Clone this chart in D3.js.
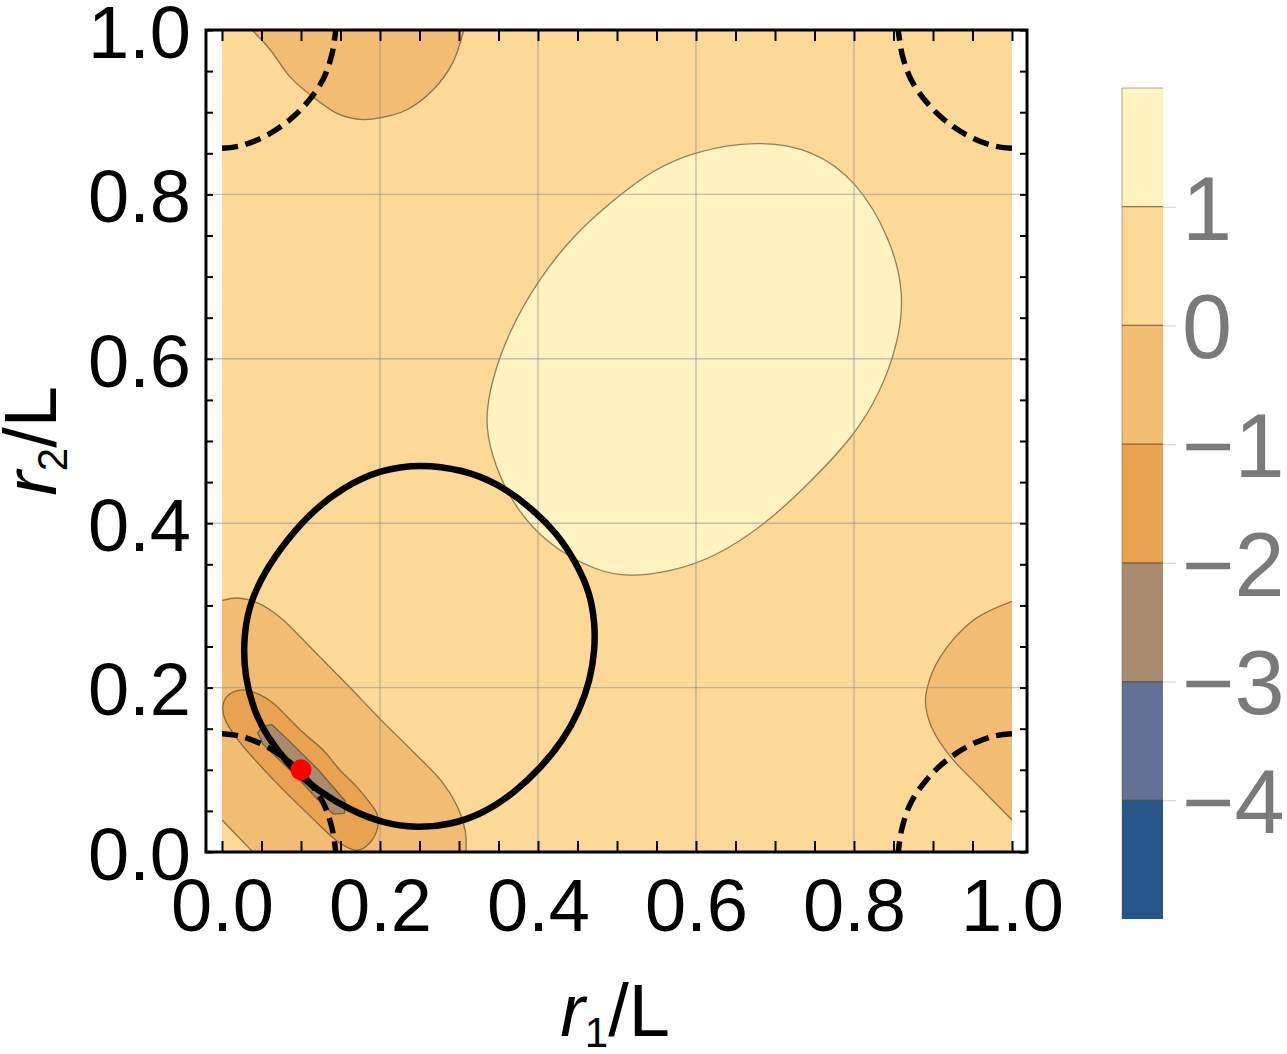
<!DOCTYPE html>
<html><head><meta charset="utf-8">
<script src="https://cdn.jsdelivr.net/npm/d3@7"></script>
<style>body{margin:0;background:#fff}</style>
</head><body><svg id="c" width="1287" height="1054"></svg>
<script>
// ---------- data (data units r1/L, r2/L) ----------
const levels = [-5, -4, -3, -2, -1, 0, 1, 2];
const levelColors = ["#265589", "#637196", "#A88A6E", "#E8A250", "#F2BD72", "#FDD998", "#FFF3C2"];
const colorbarTicks = [-4, -3, -2, -1, 0, 1];
const axisMajorTicks = [0, 0.2, 0.4, 0.6, 0.8, 1.0];
const axisMinorTicks = [0,0.05,0.1,0.15,0.2,0.25,0.3,0.35,0.4,0.45,0.5,0.55,0.6,0.65,0.7,0.75,0.8,0.85,0.9,0.95,1.0];
const gridTicks = [0.2, 0.4, 0.6, 0.8];

// level 1..2 region (closed)
const regionPos1 = [[0.500,0.797],[0.546,0.830],[0.596,0.852],[0.677,0.866],[0.748,0.855],[0.804,0.816],[0.846,0.747],[0.864,0.680],[0.856,0.619],[0.833,0.558],[0.799,0.505],[0.748,0.453],[0.690,0.400],[0.622,0.357],[0.563,0.340],[0.516,0.335],[0.475,0.341],[0.411,0.374],[0.365,0.426],[0.340,0.485],[0.333,0.526],[0.341,0.573],[0.363,0.633],[0.399,0.694],[0.444,0.750]];
// level -1..0 regions (open curves ending on plot edges)
const regionNeg1Top = [[0.038,1.0],[0.061,0.976],[0.086,0.943],[0.120,0.915],[0.149,0.897],[0.178,0.891],[0.200,0.893],[0.234,0.903],[0.267,0.927],[0.292,0.960],[0.306,1.0]];
const regionNeg1Right = [[1.0,0.305],[0.951,0.282],[0.909,0.237],[0.892,0.197],[0.891,0.176],[0.900,0.148],[0.922,0.116],[0.959,0.079],[1.0,0.039]];
const regionNeg1Diag = [[0,0.306],[0.020,0.309],[0.045,0.303],[0.073,0.286],[0.115,0.246],[0.158,0.204],[0.200,0.162],[0.242,0.122],[0.278,0.086],[0.298,0.055],[0.308,0.025],[0.309,0]];
const regionNeg1Corner = [[0.039,0],[0,0.039]];
// level -2..-1 region (closed)
const regionNeg2 = [[0.023,0.197],[0.044,0.193],[0.065,0.181],[0.084,0.163],[0.103,0.145],[0.128,0.124],[0.149,0.100],[0.171,0.079],[0.187,0.060],[0.196,0.047],[0.197,0.030],[0.187,0.011],[0.171,0.002],[0.149,0.011],[0.108,0.047],[0.065,0.088],[0.023,0.133],[0.004,0.161],[0.001,0.176],[0.006,0.189]];
// level -3..-2 region (closed)
const regionNeg3 = [[0.052,0.153],[0.045,0.145],[0.052,0.131],[0.090,0.096],[0.122,0.063],[0.141,0.046],[0.155,0.047],[0.156,0.062],[0.121,0.101],[0.083,0.137],[0.063,0.155]];
// thick solid loop
const loopCurve = [[0.251,0.472],[0.305,0.465],[0.348,0.449],[0.390,0.420],[0.424,0.388],[0.449,0.351],[0.466,0.315],[0.472,0.278],[0.472,0.246],[0.466,0.209],[0.453,0.173],[0.432,0.136],[0.404,0.103],[0.369,0.071],[0.331,0.047],[0.289,0.033],[0.246,0.029],[0.204,0.035],[0.162,0.051],[0.120,0.075],[0.086,0.104],[0.057,0.140],[0.040,0.173],[0.029,0.213],[0.027,0.254],[0.033,0.298],[0.053,0.340],[0.082,0.380],[0.116,0.416],[0.154,0.444],[0.200,0.465]];
// dashed quarter arc (offset from its corner) and the corners where it appears
const dashedArc = [[0,0.144],[0.023,0.141],[0.057,0.128],[0.086,0.109],[0.108,0.088],[0.128,0.060],[0.139,0.030],[0.144,0]];
const arcCorners = [[0,0],[0,1],[1,1],[1,0]];
const markerPoint = [0.1, 0.1];

// ---------- drawing ----------
const FONT = "'Liberation Sans', Arial, Helvetica, sans-serif";
const svg = d3.select('#c');
const x = d3.scaleLinear().domain([0,1]).range([222,1012]);
const y = d3.scaleLinear().domain([0,1]).range([852,30]);
const fx0 = x(-0.0203), fx1 = x(1.019), fy0 = y(1), fy1 = y(0);
const color = d3.scaleThreshold().domain(levels.slice(1, -1)).range(levelColors);

svg.append('defs').append('clipPath').attr('id','clip')
  .append('rect').attr('x',x(0)).attr('y',y(1)).attr('width',x(1)-x(0)).attr('height',y(0)-y(1));

const plot = svg.append('g').attr('clip-path','url(#clip)');
const lineOpen = d3.line().x(d=>x(d[0])).y(d=>y(d[1])).curve(d3.curveCatmullRom.alpha(0.5));
const lineClosed = d3.line().x(d=>x(d[0])).y(d=>y(d[1])).curve(d3.curveCatmullRomClosed.alpha(0.5));
const lineSmoothClosed = d3.line().x(d=>x(d[0])).y(d=>y(d[1])).curve(d3.curveBasisClosed);
const lineLinClosed = d3.line().x(d=>x(d[0])).y(d=>y(d[1])).curve(d3.curveLinearClosed);
const lineLin = d3.line().x(d=>x(d[0])).y(d=>y(d[1]));

// background band 0..1
plot.append('rect').attr('x',x(0)).attr('y',y(1)).attr('width',x(1)-x(0)).attr('height',y(0)-y(1))
  .attr('fill', color(0.5));

const edgeRegion = (pts, extra) => lineOpen(pts) + (extra||[]).map(p=>`L${x(p[0])},${y(p[1])}`).join('') + 'Z';
const lineStyle = s => s.attr('fill','none').attr('stroke','#4a3a22').attr('stroke-opacity',0.6).attr('stroke-width',1.3);

// -1..0
plot.append('path').attr('d', edgeRegion(regionNeg1Top)).attr('fill', color(-0.5));
plot.append('path').attr('d', edgeRegion(regionNeg1Right)).attr('fill', color(-0.5));
plot.append('path').attr('d', edgeRegion(regionNeg1Diag, regionNeg1Corner)).attr('fill', color(-0.5));
[regionNeg1Top, regionNeg1Right, regionNeg1Diag].forEach(p => plot.append('path').attr('d', lineOpen(p)).call(lineStyle));
plot.append('path').attr('d', lineLin(regionNeg1Corner)).call(lineStyle);
// -2..-1
plot.append('path').attr('d', lineClosed(regionNeg2)).attr('fill', color(-1.5)).attr('stroke','#4a3a22').attr('stroke-opacity',0.6).attr('stroke-width',1.3);
// -3..-2
plot.append('path').attr('d', lineLinClosed(regionNeg3)).attr('fill', color(-2.5)).attr('stroke','#4a3a22').attr('stroke-opacity',0.6).attr('stroke-width',1.3).attr('stroke-linejoin','round');
// 1..2
plot.append('path').attr('d', lineSmoothClosed(regionPos1)).attr('fill', color(1.5)).attr('stroke','#4a3a22').attr('stroke-opacity',0.6).attr('stroke-width',1.3);

// grid lines
const grid = svg.append('g').attr('stroke','#8a8a8a').attr('stroke-opacity',0.5).attr('stroke-width',1.4);
grid.selectAll('.gx').data(gridTicks).join('line').attr('x1',d=>x(d)).attr('x2',d=>x(d)).attr('y1',fy0).attr('y2',fy1);
grid.selectAll('.gy').data(gridTicks).join('line').attr('y1',d=>y(d)).attr('y2',d=>y(d)).attr('x1',fx0).attr('x2',fx1);

// dashed arcs
const over = svg.append('g').attr('clip-path','url(#clip)');
arcCorners.forEach(c => {
  const pts = dashedArc.map(p => [c[0] === 0 ? p[0] : 1 - p[0], c[1] === 0 ? p[1] : 1 - p[1]]);
  over.append('path').attr('d', lineOpen(pts)).attr('fill','none').attr('stroke','#000')
    .attr('stroke-width',5.5).attr('stroke-dasharray','16,8');
});
// solid loop
over.append('path').attr('d', lineSmoothClosed(loopCurve)).attr('fill','none').attr('stroke','#000').attr('stroke-width',6.5);
// marker
over.append('circle').attr('cx',x(markerPoint[0])).attr('cy',y(markerPoint[1])).attr('r',10.5).attr('fill','#ff0000');

// frame
svg.append('rect').attr('x',fx0).attr('y',fy0).attr('width',fx1-fx0).attr('height',fy1-fy0)
  .attr('fill','none').attr('stroke','#000').attr('stroke-width',3);

// frame ticks
const tickStyle = g => { g.select('.domain').remove(); g.selectAll('line').attr('stroke','#000').attr('stroke-width',2); g.selectAll('text').remove(); };
svg.append('g').attr('transform',`translate(0,${fy1})`).call(d3.axisBottom(x).tickValues(axisMinorTicks).tickSize(-11)).call(tickStyle);
svg.append('g').attr('transform',`translate(0,${fy0})`).call(d3.axisTop(x).tickValues(axisMinorTicks).tickSize(-11)).call(tickStyle);
svg.append('g').attr('transform',`translate(${fx0},0)`).call(d3.axisLeft(y).tickValues(axisMinorTicks).tickSize(-7)).call(tickStyle);
svg.append('g').attr('transform',`translate(${fx1},0)`).call(d3.axisRight(y).tickValues(axisMinorTicks).tickSize(-7)).call(tickStyle);

// tick labels
const fmt = d3.format('.1f');
const labStyle = g => { g.select('.domain').remove(); g.selectAll('line').remove();
  g.selectAll('text').attr('font-family',FONT).attr('font-size',74).attr('fill','#000'); };
svg.append('g').attr('transform',`translate(0,${fy1})`)
  .call(d3.axisBottom(x).tickValues(axisMajorTicks).tickFormat(fmt).tickSize(0).tickPadding(26)).call(labStyle);
svg.append('g').attr('transform',`translate(${fx0},0)`)
  .call(d3.axisLeft(y).tickValues(axisMajorTicks).tickFormat(fmt).tickSize(0).tickPadding(15)).call(labStyle)
  .call(g => g.selectAll('text').attr('dy','0.37em'));

// axis titles
const xt = svg.append('text').attr('x',615).attr('y',1036).attr('text-anchor','middle')
  .attr('font-family',FONT).attr('font-size',74);
xt.append('tspan').attr('font-style','italic').text('r');
xt.append('tspan').attr('font-size',42).attr('dy',11).text('1');
xt.append('tspan').attr('dy',-11).text('/L');
const yt = svg.append('text').attr('transform','translate(56,441) rotate(-90)').attr('text-anchor','middle')
  .attr('font-family',FONT).attr('font-size',74);
yt.append('tspan').attr('font-style','italic').text('r');
yt.append('tspan').attr('font-size',42).attr('dy',11).text('2');
yt.append('tspan').attr('dy',-11).text('/L');

// colorbar
const cb = d3.scaleLinear().domain([levels[0], levels[levels.length-1]]).range([919,88]);
const cbX = 1122, cbW = 41;
const bands = d3.pairs(levels);
svg.append('g').selectAll('rect').data(bands).join('rect')
  .attr('x',cbX).attr('width',cbW).attr('y',d=>cb(d[1])).attr('height',d=>cb(d[0])-cb(d[1]))
  .attr('fill',d=>color((d[0]+d[1])/2));
svg.append('g').attr('transform',`translate(${cbX+cbW},0)`)
  .call(d3.axisRight(cb).tickValues(colorbarTicks).tickSize(13).tickPadding(6)
    .tickFormat(d => d < 0 ? '\u2212' + Math.abs(d) : String(d)))
  .call(g => { g.select('.domain').remove();
    g.selectAll('line').attr('stroke','#cfcfcf').attr('stroke-width',1);
    g.selectAll('text').attr('font-family',FONT).attr('font-size',90).attr('fill','#7a7a7a').attr('dy','0.36em'); });
// colorbar level separators and edges
svg.append('g').selectAll('line').data(levels.slice(1,-1)).join('line')
  .attr('x1',cbX).attr('x2',cbX+cbW).attr('y1',d=>cb(d)).attr('y2',d=>cb(d))
  .attr('stroke','#3a2a12').attr('stroke-opacity',0.6).attr('stroke-width',1.3);
svg.append('line').attr('x1',cbX).attr('x2',cbX).attr('y1',cb(levels[0])).attr('y2',cb(levels[levels.length-1]))
  .attr('stroke','#6a5a3a').attr('stroke-opacity',0.5).attr('stroke-width',1);
svg.append('line').attr('x1',cbX).attr('x2',cbX+cbW).attr('y1',cb(levels[levels.length-1])).attr('y2',cb(levels[levels.length-1]))
  .attr('stroke','#6a5a3a').attr('stroke-opacity',0.5).attr('stroke-width',1);
</script></body></html>
